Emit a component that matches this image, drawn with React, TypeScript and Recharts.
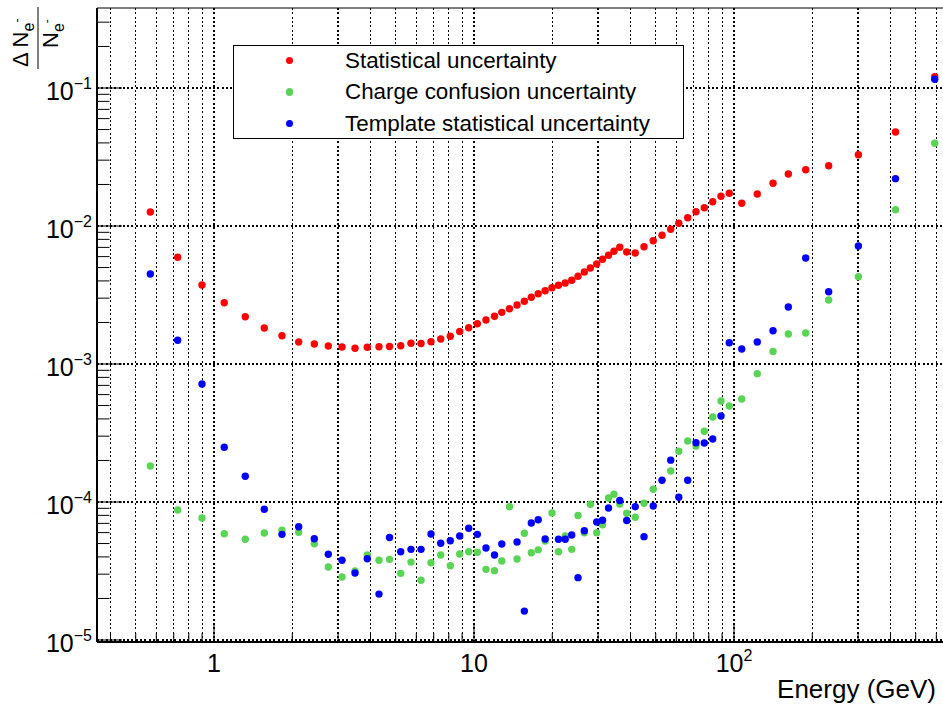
import React from 'react';
import { ScatterChart, Scatter, XAxis, YAxis, CartesianGrid, ReferenceLine, Legend } from 'recharts';

const FONT = '"Liberation Sans", Arial, Helvetica, sans-serif';

// Bin centres (GeV)
const energies = [
  0.569, 0.725, 0.899, 1.095, 1.319, 1.561, 1.826, 2.117, 2.431, 2.752,
  3.107, 3.486, 3.887, 4.311, 4.732, 5.225, 5.723, 6.255, 6.833, 7.446,
  8.106, 8.81, 9.541, 10.3, 11.12, 11.99, 12.79, 13.69, 14.64, 15.62,
  16.61, 17.66, 18.78, 19.95, 21.13, 22.43, 23.76, 25.12, 26.57, 28.02,
  29.65, 31.21, 32.91, 34.55, 36.37, 38.67, 41.69, 45.07, 48.91, 52.86,
  57.09, 61.34, 66.37, 71.42, 76.87, 82.81, 89.13, 95.92, 107.1, 122.9,
  141.3, 161.8, 188.7, 231.3, 300.8, 418.0, 591.6,
];

const statUnc = [
  0.01263, 0.005933, 0.003737, 0.00278, 0.002202, 0.001824, 0.001604, 0.001443, 0.001396, 0.00135,
  0.001328, 0.001299, 0.001321, 0.001335, 0.001339, 0.001357, 0.001413, 0.001408, 0.00145, 0.001518,
  0.00159, 0.00172, 0.001832, 0.001959, 0.002084, 0.002216, 0.002368, 0.002516, 0.002676, 0.002846,
  0.003042, 0.003231, 0.003397, 0.003572, 0.003718, 0.003864, 0.004042, 0.00432, 0.004642, 0.004962,
  0.005305, 0.005737, 0.006133, 0.006557, 0.007011, 0.006482, 0.006374, 0.007079, 0.007824, 0.008563,
  0.009465, 0.01046, 0.01148, 0.0127, 0.01357, 0.015, 0.01641, 0.01726, 0.01461, 0.01705,
  0.02039, 0.0238, 0.02559, 0.02735, 0.03286, 0.048, 0.1207,
];

const chargeUnc = [
  0.0001824, 0.0000875, 0.0000766, 0.0000589, 0.0000537, 0.0000596, 0.0000624, 0.0000603, 0.0000498, 0.0000338,
  0.0000286, 0.0000316, 0.0000413, 0.0000378, 0.0000384, 0.0000304, 0.0000367, 0.0000271, 0.0000363, 0.0000413,
  0.0000345, 0.000042, 0.0000436, 0.0000432, 0.0000325, 0.0000318, 0.0000374, 0.0000924, 0.0000386, 0.0000593,
  0.0000429, 0.000045, 0.0000522, 0.0000832, 0.0000436, 0.0000567, 0.0000454, 0.0000798, 0.0000599, 0.0000962,
  0.0000599, 0.0000685, 0.0001069, 0.0001139, 0.0000967, 0.0000829, 0.0000775, 0.0000979, 0.0001238, null,
  0.0001677, 0.000233, 0.0002767, 0.0002545, 0.0003253, 0.000413, 0.000539, 0.000496, 0.000558, 0.000851,
  0.001232, 0.00165, 0.001678, 0.002909, 0.004292, 0.01313, 0.03981,
];

const templateUnc = [
  0.00449, 0.001488, 0.000716, 0.000249, 0.0001536, 0.0000885, 0.0000583, 0.0000662, 0.0000542, 0.0000418,
  0.0000378, 0.0000306, 0.0000388, 0.0000215, 0.0000553, 0.0000436, 0.0000454, 0.0000454, 0.0000586, 0.0000502,
  0.0000524, 0.0000567, 0.0000645, 0.0000583, 0.0000464, 0.0000413, 0.0000496, null, 0.0000513, 0.0000162,
  0.0000705, 0.0000744, 0.0000539, null, 0.0000537, 0.0000537, 0.0000577, 0.0000283, 0.0000619, null,
  0.0000716, 0.0000737, 0.0000905, null, 0.0001025, 0.0000734, 0.0000924, 0.0000561, 0.0000935, 0.0001437,
  0.000201, 0.0001083, 0.0001439, 0.000269, 0.0002677, 0.000286, 0.00042, 0.001427, 0.001284, 0.001443,
  0.00174, 0.002588, 0.005862, 0.003342, 0.007164, 0.02203, 0.1156,
];

const seriesNames = [
  'Statistical uncertainty',
  'Charge confusion uncertainty',
  'Template statistical uncertainty',
];
const seriesColors = ['#ff0000', '#59d454', '#0000ff'];

const xTicks = [
  0.4, 0.5, 0.6, 0.7, 0.8, 0.9, 1, 2, 3, 4, 5, 6, 7, 8, 9, 10, 20, 30, 40, 50, 60, 70, 80, 90,
  100, 200, 300, 400, 500, 600, 700,
];
const xTickLabels = [
  { value: 1, base: '1', exp: '' },
  { value: 10, base: '10', exp: '' },
  { value: 100, base: '10', exp: '2' },
];
const yTicks = [
  1e-5, 2e-5, 3e-5, 4e-5, 5e-5, 6e-5, 7e-5, 8e-5, 9e-5,
  1e-4, 2e-4, 3e-4, 4e-4, 5e-4, 6e-4, 7e-4, 8e-4, 9e-4,
  1e-3, 2e-3, 3e-3, 4e-3, 5e-3, 6e-3, 7e-3, 8e-3, 9e-3,
  1e-2, 2e-2, 3e-2, 4e-2, 5e-2, 6e-2, 7e-2, 8e-2, 9e-2,
  0.1, 0.2, 0.3,
];
const yTickLabels = [
  { value: 1e-5, base: '10', exp: '\u22125' },
  { value: 1e-4, base: '10', exp: '\u22124' },
  { value: 1e-3, base: '10', exp: '\u22123' },
  { value: 1e-2, base: '10', exp: '\u22122' },
  { value: 1e-1, base: '10', exp: '\u22121' },
];
const yDecades = [1e-5, 1e-4, 1e-3, 1e-2, 1e-1];

const X_DOMAIN: [number, number] = [Math.pow(10, -0.45), Math.pow(10, 2.85)];
const Y_DOMAIN: [number, number] = [Math.pow(10, -5.01449), Math.pow(10, -0.42029)];

const CHART_W = 960;
const CHART_H = 709;
const MARGIN = { top: 8, right: 5, bottom: 0, left: 0 };
const Y_AXIS_W = 97;
const X_AXIS_H = 67;
const PLOT_LEFT = MARGIN.left + Y_AXIS_W;
const PLOT_BOTTOM = CHART_H - MARGIN.bottom - X_AXIS_H;
const GRID_DASH = '2 2.3';

const same = (a: number, b: number) => Math.abs(a - b) <= Math.abs(b) * 1e-6;
const isDecade = (v: number) => {
  const l = Math.log10(v);
  return Math.abs(l - Math.round(l)) < 1e-6;
};

const buildData = (vals: (number | null)[]) =>
  energies
    .map((e, i) => ({ x: e, y: vals[i] }))
    .filter((d) => d.y !== null && d.y !== undefined) as { x: number; y: number }[];

const statData = buildData(statUnc);
const chargeData = buildData(chargeUnc);
const templateData = buildData(templateUnc);

const XTick = (props: any) => {
  const { x, payload } = props;
  const v = payload.value as number;
  const len = isDecade(v) ? 18 : 9;
  const lab = xTickLabels.find((l) => same(v, l.value));
  return (
    <g>
      <line x1={x} x2={x} y1={PLOT_BOTTOM} y2={PLOT_BOTTOM - len} stroke="#000" strokeWidth={1} />
      {lab && (
        <text x={x} y={PLOT_BOTTOM + 30} textAnchor="middle" fontSize={25} fontFamily={FONT} fill="#000">
          {lab.base}
          {lab.exp && (
            <tspan dy={-11} fontSize={16}>
              {lab.exp}
            </tspan>
          )}
        </text>
      )}
    </g>
  );
};

const YTick = (props: any) => {
  const { y, payload } = props;
  const v = payload.value as number;
  const len = isDecade(v) ? 25 : 12.5;
  const lab = yTickLabels.find((l) => same(v, l.value));
  return (
    <g>
      <line x1={PLOT_LEFT} x2={PLOT_LEFT + len} y1={y} y2={y} stroke="#000" strokeWidth={1} />
      {lab && (
        <text x={PLOT_LEFT - 5} y={y + 12} textAnchor="end" fontSize={25} fontFamily={FONT} fill="#000">
          {lab.base}
          <tspan dy={-11} fontSize={16}>
            {lab.exp}
          </tspan>
        </text>
      )}
    </g>
  );
};

const YTitle = () => (
  <g transform="translate(38,38) rotate(-90)" fontFamily={FONT} fill="#000">
    <text x={-29} y={-10} fontSize={22}>
      {'\u0394 N'}
      <tspan fontSize={16} dy={6}>
        e
      </tspan>
      <tspan fontSize={12} dy={-13}>
        -
      </tspan>
    </text>
    <line x1={-31} x2={31} y1={0} y2={0} stroke="#000" strokeWidth={1} />
    <text x={-10} y={20} fontSize={22}>
      N
      <tspan fontSize={16} dy={6}>
        e
      </tspan>
      <tspan fontSize={12} dy={-13}>
        -
      </tspan>
    </text>
  </g>
);

const XTitle = () => (
  <text x={936} y={698} textAnchor="end" fontSize={26} fontFamily={FONT} fill="#000">
    Energy (GeV)
  </text>
);

const LegendBox = (props: any) => {
  const payload = [...(props.payload || [])].sort(
    (a: any, b: any) => seriesNames.indexOf(a.value) - seriesNames.indexOf(b.value)
  );
  return (
    <div
      style={{
        width: 451,
        height: 94,
        boxSizing: 'border-box',
        border: '1px solid #000',
        background: '#fff',
        position: 'relative',
        fontFamily: FONT,
      }}
    >
      {payload.map((entry: any, i: number) => (
        <div
          key={i}
          style={{
            position: 'absolute',
            left: 0,
            top: 0 + i * 31.3,
            height: 30,
            width: '100%',
          }}
        >
          <div
            style={{
              position: 'absolute',
              left: 52,
              top: 11,
              width: 7.4,
              height: 7.4,
              borderRadius: '50%',
              background: entry.color,
            }}
          />
          <div
            style={{
              position: 'absolute',
              left: 111,
              top: 0,
              lineHeight: '30px',
              fontSize: 22.4,
              color: '#000',
              whiteSpace: 'nowrap',
            }}
          >
            {entry.value}
          </div>
        </div>
      ))}
    </div>
  );
};

const dotShape = (color: string) => (props: any) =>
  <circle cx={props.cx} cy={props.cy} r={3.7} fill={color} />;

export default function App() {
  return (
    <div
      style={{
        position: 'absolute',
        left: 0,
        top: 0,
        width: 943,
        height: 709,
        overflow: 'hidden',
        background: '#fff',
      }}
    >
      <ScatterChart width={CHART_W} height={CHART_H} margin={MARGIN}>
        <CartesianGrid
          horizontal={false}
          vertical
          stroke="#000"
          strokeDasharray={GRID_DASH}
          strokeWidth={1.2}
          shapeRendering="crispEdges"
        />
        {yDecades.map((d) => (
          <ReferenceLine
            key={d}
            y={d}
            stroke="#000"
            strokeDasharray={GRID_DASH}
            strokeWidth={1.2}
            shapeRendering="crispEdges"
          />
        ))}
        <ReferenceLine y={Y_DOMAIN[1]} stroke="#000" strokeWidth={1.2} />
        <XAxis
          type="number"
          dataKey="x"
          scale="log"
          domain={X_DOMAIN}
          allowDataOverflow
          ticks={xTicks}
          interval={0}
          tick={XTick}
          tickLine={false}
          tickSize={0}
          height={X_AXIS_H}
          axisLine={{ stroke: '#000', strokeWidth: 2 }}
          label={XTitle}
        />
        <YAxis
          type="number"
          dataKey="y"
          scale="log"
          domain={Y_DOMAIN}
          allowDataOverflow
          ticks={yTicks}
          interval={0}
          tick={YTick}
          tickLine={false}
          tickSize={0}
          width={Y_AXIS_W}
          axisLine={{ stroke: '#000', strokeWidth: 2 }}
          label={YTitle}
        />
        <Legend
          layout="vertical"
          align="center"
          verticalAlign="middle"
          wrapperStyle={{ left: 233, top: 45, width: 451, height: 94 }}
          content={LegendBox}
        />
        <Scatter
          name={seriesNames[0]}
          data={statData}
          fill={seriesColors[0]}
          shape={dotShape(seriesColors[0])}
          isAnimationActive={false}
        />
        <Scatter
          name={seriesNames[1]}
          data={chargeData}
          fill={seriesColors[1]}
          shape={dotShape(seriesColors[1])}
          isAnimationActive={false}
        />
        <Scatter
          name={seriesNames[2]}
          data={templateData}
          fill={seriesColors[2]}
          shape={dotShape(seriesColors[2])}
          isAnimationActive={false}
        />
      </ScatterChart>
    </div>
  );
}
